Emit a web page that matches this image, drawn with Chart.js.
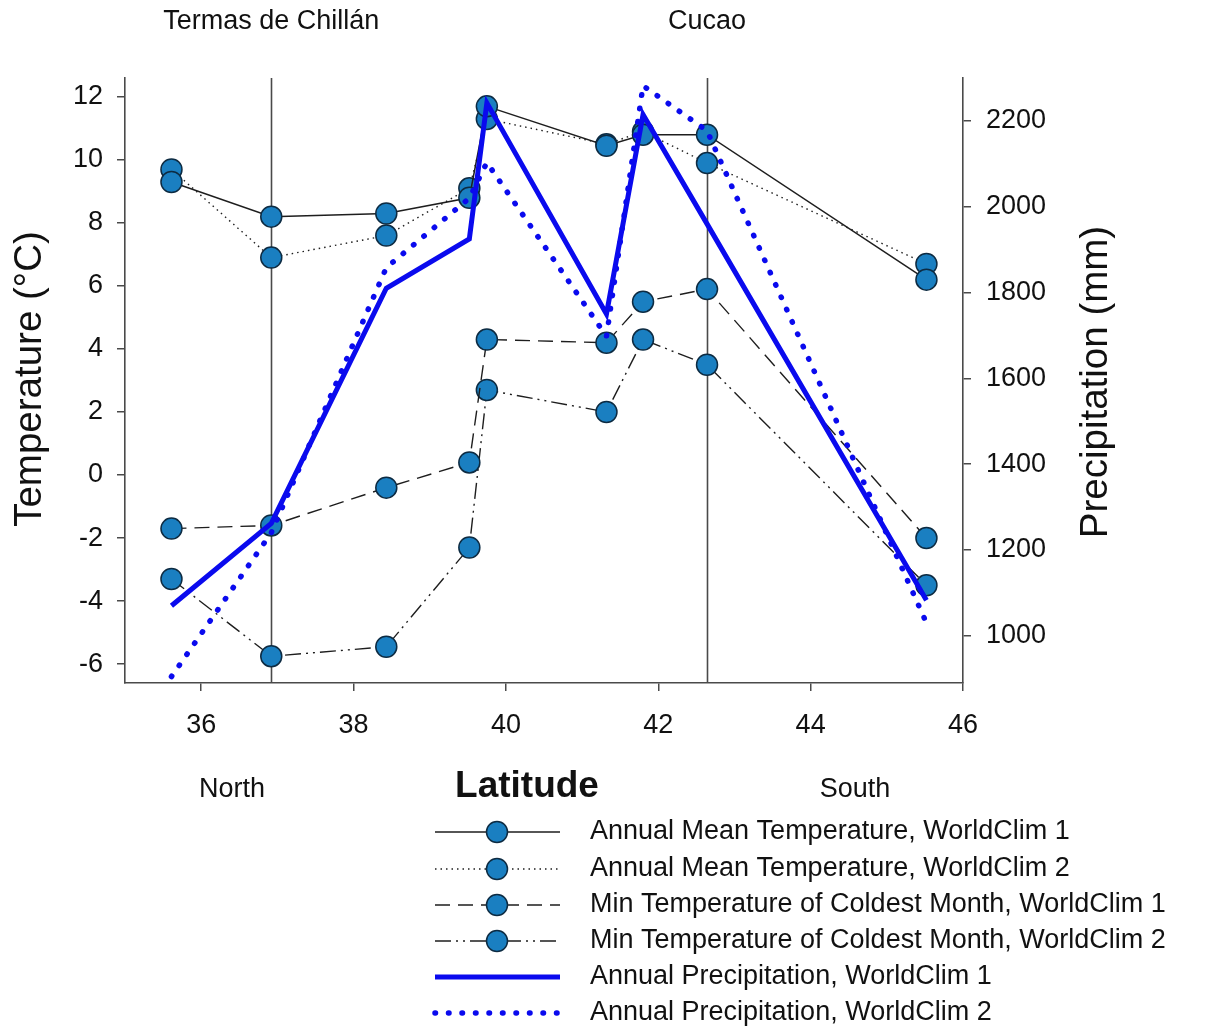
<!DOCTYPE html>
<html>
<head>
<meta charset="utf-8">
<script src="https://cdn.jsdelivr.net/npm/chart.js@4.4.1/dist/chart.umd.min.js"></script>
<style>
  html, body { margin: 0; padding: 0; background: #fff; }
  #wrap { width: 1212px; height: 1029px; position: relative; }
</style>
</head>
<body>
<div id="wrap"><canvas id="climChart" width="1212" height="1029"></canvas></div>
<script>
const FONT = "'Liberation Sans', Arial, sans-serif";

// station latitudes (°S)
const latitudes    = [35.61, 36.92, 38.43, 39.52, 39.75, 41.32, 41.80, 42.64, 45.52];
// temperatures, °C
const meanTempWC1  = [9.3, 8.2, 8.3, 8.8, 11.7, 10.45, 10.8, 10.8, 6.2];
const meanTempWC2  = [9.7, 6.9, 7.6, 9.1, 11.3, 10.5, 10.9, 9.9, 6.7];
const minTempWC1   = [-1.7, -1.6, -0.4, 0.4, 4.3, 4.2, 5.5, 5.9, -2.0];
const minTempWC2   = [-3.3, -5.75, -5.45, -2.3, 2.7, 2.0, 4.3, 3.5, -3.5];
// precipitation, mm
const precipWC1    = [1070, 1262, 1810, 1925, 2242, 1750, 2215, 1960, 1083];
const precipWC2    = [905, 1240, 1858, 2020, 2103, 1698, 2282, 2177, 1030];

const xTicks    = [36, 38, 40, 42, 44, 46];
const tempTicks = [-6, -4, -2, 0, 2, 4, 6, 8, 10, 12];
const precTicks = [1000, 1200, 1400, 1600, 1800, 2000, 2200];

const siteNames = ['Termas de Chillán', 'Cucao'];
const siteLats  = [36.92, 42.64];

const legendLabels = [
  'Annual Mean Temperature, WorldClim 1',
  'Annual Mean Temperature, WorldClim 2',
  'Min Temperature of Coldest Month, WorldClim 1',
  'Min Temperature of Coldest Month, WorldClim 2',
  'Annual Precipitation, WorldClim 1',
  'Annual Precipitation, WorldClim 2',
];

const MARKER_FILL = '#1a7fc1';
const MARKER_EDGE = '#0d2b42';
const BLUE = '#0a0aee';
const AXIS = '#4a4a4a';

const pts = vals => vals.map((v, i) => ({ x: latitudes[i], y: v }));

function tempSet(label, vals, dash, order) {
  return {
    label,
    data: pts(vals),
    yAxisID: 'y',
    borderColor: '#1e1e1e',
    borderWidth: dash.length ? 1.4 : 1.5,
    borderDash: dash,
    pointRadius: 10.5,
    pointBackgroundColor: MARKER_FILL,
    pointBorderColor: MARKER_EDGE,
    pointBorderWidth: 1.5,
    tension: 0,
    order,
  };
}

const datasets = [
  tempSet(legendLabels[0], meanTempWC1, [], 2),
  tempSet(legendLabels[1], meanTempWC2, [1.5, 4], 3),
  tempSet(legendLabels[2], minTempWC1, [15, 8], 4),
  tempSet(legendLabels[3], minTempWC2, [16, 5, 2, 5, 2, 5], 5),
  {
    label: legendLabels[4],
    data: pts(precipWC1),
    yAxisID: 'y2',
    borderColor: BLUE,
    borderWidth: 5,
    borderDash: [],
    pointRadius: 0,
    tension: 0,
    order: 0,
  },
  {
    label: legendLabels[5],
    data: pts(precipWC2),
    yAxisID: 'y2',
    borderColor: BLUE,
    borderWidth: 5.5,
    borderDash: [0.5, 13],
    borderCapStyle: 'round',
    pointRadius: 0,
    tension: 0,
    order: 1,
  },
];

const extras = {
  id: 'extras',
  beforeDatasetsDraw(chart) {
    const { ctx, chartArea, scales } = chart;
    ctx.save();
    ctx.strokeStyle = AXIS;
    ctx.lineWidth = 1.6;
    siteLats.forEach(lat => {
      const x = Math.round(scales.x.getPixelForValue(lat)) + 0.5;
      ctx.beginPath();
      ctx.moveTo(x, chartArea.top);
      ctx.lineTo(x, chartArea.bottom);
      ctx.stroke();
    });
    ctx.restore();
  },
  afterDraw(chart) {
    const { ctx, scales } = chart;
    ctx.save();
    ctx.fillStyle = '#111';
    ctx.textAlign = 'center';
    ctx.textBaseline = 'middle';
    ctx.font = `27px ${FONT}`;
    siteLats.forEach((lat, i) => {
      ctx.fillText(siteNames[i], scales.x.getPixelForValue(lat), 22);
    });

    ctx.textBaseline = 'alphabetic';
    ctx.fillText('North', 232, 797);
    ctx.fillText('South', 855, 797);
    ctx.font = `bold 37px ${FONT}`;
    ctx.fillText('Latitude', 527, 797);

    // axis titles
    ctx.font = `38.5px ${FONT}`;
    ctx.save();
    ctx.translate(41, 379);
    ctx.rotate(-Math.PI / 2);
    ctx.fillText('Temperature (°C)', 0, 0);
    ctx.restore();
    ctx.save();
    ctx.translate(1107, 382);
    ctx.rotate(-Math.PI / 2);
    ctx.fillText('Precipitation (mm)', 0, 0);
    ctx.restore();

    // legend
    const rowY = [832, 869, 905, 941, 977, 1013];
    ctx.font = `27px ${FONT}`;
    ctx.textAlign = 'left';
    ctx.textBaseline = 'middle';
    chart.data.datasets.forEach((ds, i) => {
      const y = rowY[i];
      ctx.save();
      ctx.strokeStyle = ds.borderColor;
      ctx.lineWidth = ds.borderWidth;
      ctx.setLineDash(ds.borderDash || []);
      ctx.lineCap = ds.borderCapStyle || 'butt';
      ctx.beginPath();
      ctx.moveTo(435, y);
      ctx.lineTo(560, y);
      ctx.stroke();
      ctx.restore();
      if (ds.pointRadius > 0) {
        ctx.beginPath();
        ctx.arc(497, y, ds.pointRadius, 0, Math.PI * 2);
        ctx.fillStyle = MARKER_FILL;
        ctx.fill();
        ctx.lineWidth = 1.5;
        ctx.strokeStyle = MARKER_EDGE;
        ctx.stroke();
      }
      ctx.fillStyle = '#111';
      ctx.fillText(legendLabels[i], 590, y);
    });
    ctx.restore();
  },
};

const tickFont = { family: FONT, size: 27 };
const axisGrid = { drawOnChartArea: false, drawTicks: true, tickLength: 8, color: AXIS, lineWidth: 1.5 };
const axisBorder = { display: true, color: AXIS, width: 1.6 };
const plainNum = v => String(v);

new Chart(document.getElementById('climChart'), {
  type: 'line',
  data: { datasets },
  options: {
    responsive: false,
    animation: false,
    events: [],
    layout: { padding: { left: 0, right: 0, top: 78, bottom: 0 } },
    plugins: { legend: { display: false }, tooltip: { enabled: false } },
    scales: {
      x: {
        type: 'linear',
        min: 35,
        max: 46,
        afterBuildTicks: s => { s.ticks = xTicks.map(v => ({ value: v })); },
        afterFit: s => { s.height = 346; },
        grid: axisGrid,
        border: axisBorder,
        ticks: { font: tickFont, color: '#111', padding: 18, maxRotation: 0, callback: plainNum },
      },
      y: {
        position: 'left',
        min: -6.6,
        max: 12.6,
        afterBuildTicks: s => { s.ticks = tempTicks.map(v => ({ value: v })); },
        afterFit: s => { s.width = 125; },
        grid: axisGrid,
        border: axisBorder,
        ticks: { font: tickFont, color: '#111', padding: 14, callback: plainNum },
      },
      y2: {
        position: 'right',
        min: 890,
        max: 2300,
        afterBuildTicks: s => { s.ticks = precTicks.map(v => ({ value: v })); },
        afterFit: s => { s.width = 249; },
        grid: axisGrid,
        border: axisBorder,
        ticks: { font: tickFont, color: '#111', padding: 15, callback: plainNum },
      },
    },
  },
  plugins: [extras],
});
</script>
</body>
</html>
